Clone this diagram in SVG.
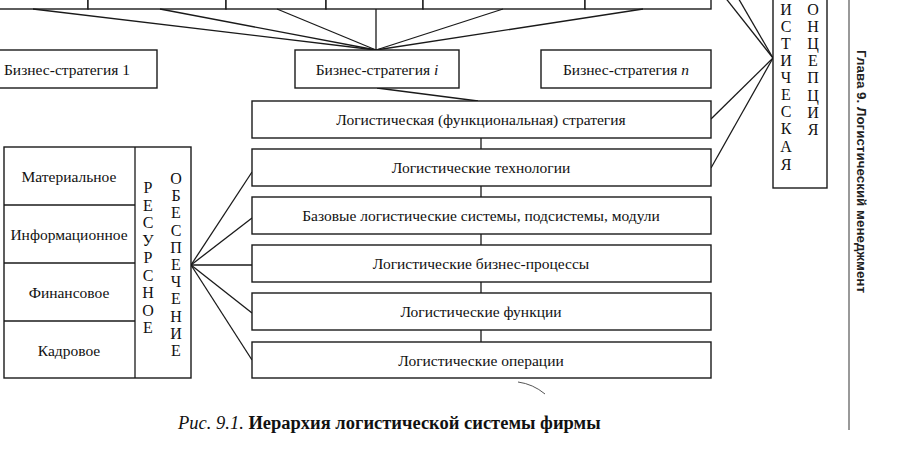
<svg xmlns="http://www.w3.org/2000/svg" width="904" height="461" viewBox="0 0 904 461">
<style>
.box{fill:#fff;stroke:#1a1a1a;stroke-width:1.4}
.ln{stroke:#1a1a1a;stroke-width:1.3;fill:none}
.t{font-family:"Liberation Serif","Times New Roman",serif;font-size:15.5px;fill:#111;text-anchor:middle}
.v{font-family:"Liberation Serif","Times New Roman",serif;font-size:16px;fill:#111;text-anchor:middle}
</style>
<rect width="904" height="461" fill="#fff"/>
<g id="top-boxes">
<rect class="box" x="-5" y="-30" width="93" height="39"/>
<rect class="box" x="88" y="-30" width="138" height="39"/>
<rect class="box" x="226" y="-30" width="100" height="39"/>
<rect class="box" x="326" y="-30" width="97" height="39"/>
<rect class="box" x="423" y="-30" width="162" height="39"/>
<rect class="box" x="585" y="-30" width="126" height="39"/>
</g>
<g id="connectors">
<line class="ln" x1="33" y1="9" x2="376" y2="50"/>
<line class="ln" x1="160" y1="9" x2="376" y2="50"/>
<line class="ln" x1="277" y1="9" x2="376" y2="50"/>
<line class="ln" x1="376" y1="9" x2="376" y2="50"/>
<line class="ln" x1="503" y1="9" x2="376" y2="50"/>
<line class="ln" x1="643" y1="9" x2="376" y2="50"/>
<line class="ln" x1="377" y1="88" x2="478" y2="101"/>
<line class="ln" x1="724" y1="-4" x2="773" y2="58"/>
<line class="ln" x1="737" y1="-4" x2="773" y2="58"/>
<line class="ln" x1="711" y1="119" x2="773" y2="58"/>
<line class="ln" x1="711" y1="168" x2="773" y2="58"/>
<line class="ln" x1="481" y1="138" x2="481" y2="149"/>
<line class="ln" x1="481" y1="186" x2="481" y2="197"/>
<line class="ln" x1="481" y1="234" x2="481" y2="245"/>
<line class="ln" x1="481" y1="282" x2="481" y2="293"/>
<line class="ln" x1="481" y1="330" x2="481" y2="342"/>
<line class="ln" x1="191" y1="265" x2="252" y2="172"/>
<line class="ln" x1="191" y1="265" x2="252" y2="218"/>
<line class="ln" x1="191" y1="265" x2="252" y2="265"/>
<line class="ln" x1="191" y1="265" x2="252" y2="313"/>
<line class="ln" x1="191" y1="265" x2="252" y2="360"/>
</g>
<g id="bs1"><rect class="box" x="-2" y="50" width="159" height="38"/><text class="t" x="67" y="74.5">Бизнес-стратегия  1</text></g>
<g id="bsi"><rect class="box" x="295" y="50" width="164" height="38"/><text class="t" x="377" y="74.5">Бизнес-стратегия <tspan font-style="italic">i</tspan></text></g>
<g id="bsn"><rect class="box" x="541" y="50" width="170" height="38"/><text class="t" x="626" y="74.5">Бизнес-стратегия <tspan font-style="italic">n</tspan></text></g>
<g id="strategy"><rect class="box" x="252" y="101" width="459" height="37"/><text class="t" x="481" y="125">Логистическая (функциональная) стратегия</text></g>
<g id="tech"><rect class="box" x="252" y="149" width="459" height="37"/><text class="t" x="481" y="173">Логистические технологии</text></g>
<g id="base"><rect class="box" x="252" y="197" width="459" height="37"/><text class="t" x="481" y="221">Базовые логистические системы, подсистемы, модули</text></g>
<g id="processes"><rect class="box" x="252" y="245" width="459" height="37"/><text class="t" x="481" y="269">Логистические бизнес-процессы</text></g>
<g id="functions"><rect class="box" x="252" y="293" width="459" height="37"/><text class="t" x="481" y="317">Логистические функции</text></g>
<g id="operations"><rect class="box" x="252" y="342" width="459" height="36"/><text class="t" x="481" y="366">Логистические операции</text></g>
<g id="resources">
<rect class="box" x="4" y="147" width="187" height="231"/>
<line class="ln" x1="135" y1="147" x2="135" y2="378"/>
<line class="ln" x1="4" y1="205" x2="135" y2="205"/>
<line class="ln" x1="4" y1="263" x2="135" y2="263"/>
<line class="ln" x1="4" y1="321" x2="135" y2="321"/>
<text class="t" x="69" y="181.5">Материальное</text>
<text class="t" x="69" y="239.5">Информационное</text>
<text class="t" x="69" y="297.5">Финансовое</text>
<text class="t" x="69" y="355.5">Кадровое</text>
<g class="v">
<text x="148" y="193">Р</text><text x="148" y="210.5">Е</text><text x="148" y="228">С</text><text x="148" y="245.5">У</text><text x="148" y="263">Р</text><text x="148" y="280.5">С</text><text x="148" y="298">Н</text><text x="148" y="315.5">О</text><text x="148" y="333">Е</text>
<text x="176" y="184">О</text><text x="176" y="201.2">Б</text><text x="176" y="218.4">Е</text><text x="176" y="235.6">С</text><text x="176" y="252.8">П</text><text x="176" y="270">Е</text><text x="176" y="287.2">Ч</text><text x="176" y="304.4">Е</text><text x="176" y="321.6">Н</text><text x="176" y="338.8">И</text><text x="176" y="356">Е</text>
</g>
</g>
<g id="concept">
<rect class="box" x="773" y="-30" width="54" height="218"/>
<g class="v">
<text x="786" y="15">И</text><text x="786" y="32">С</text><text x="786" y="49">Т</text><text x="786" y="66">И</text><text x="786" y="83">Ч</text><text x="786" y="100">Е</text><text x="786" y="117">С</text><text x="786" y="134">К</text><text x="786" y="152">А</text><text x="786" y="170">Я</text>
<text x="813" y="15">О</text><text x="813" y="32">Н</text><text x="813" y="49">Ц</text><text x="813" y="66">Е</text><text x="813" y="83">П</text><text x="813" y="101">Ц</text><text x="813" y="118">И</text><text x="813" y="135">Я</text>
</g>
</g>
<path d="M518 382 Q533 384 545 394" fill="none" stroke="#555" stroke-width="1"/>
<line x1="849" y1="0" x2="849" y2="430" stroke="#777" stroke-width="1.5"/>
<text transform="translate(857,50) rotate(90)" font-family="'Liberation Sans',Arial,sans-serif" font-size="12.5" font-weight="bold" fill="#222" textLength="243" lengthAdjust="spacingAndGlyphs">Глава 9. Логистический менеджмент</text>
<text x="178" y="429" font-family="'Liberation Serif','Times New Roman',serif" font-size="18.5" fill="#111"><tspan font-style="italic">Рис. 9.1.</tspan> <tspan font-weight="bold">Иерархия логистической системы фирмы</tspan></text>
</svg>
